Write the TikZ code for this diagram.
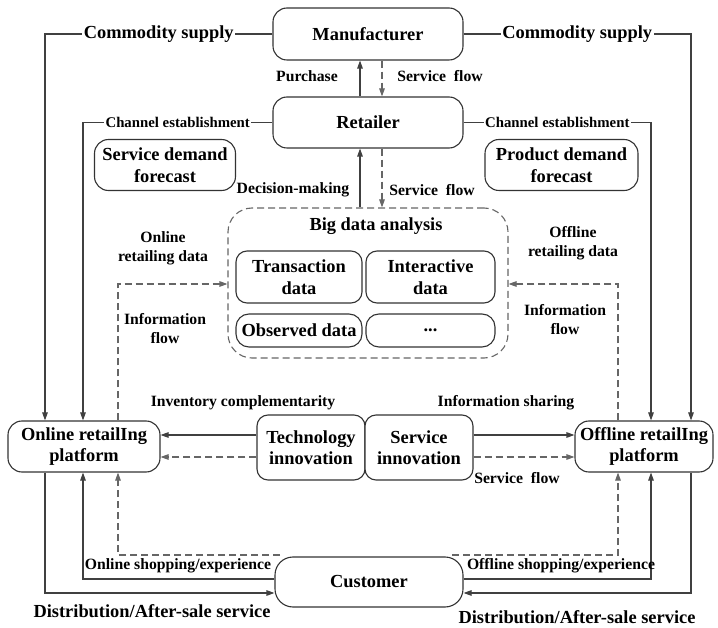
\documentclass[tikz,border=0pt]{standalone}
\usepackage{fontspec}
\setmainfont{Liberation Serif}
\usetikzlibrary{arrows.meta}
\pgfdeclarelayer{bg}
\pgfsetlayers{bg,main}
\begin{document}
\begin{tikzpicture}[x=1pt,y=-1pt,
  box/.style={draw=black!80,line width=1.1pt,rounded corners=14pt,fill=white,align=center,
    font=\fontsize{18.4}{21.5}\selectfont\bfseries,inner sep=0pt},
  ibox/.style={box,rounded corners=11pt},
  big/.style={font=\fontsize{18.4}{21.5}\selectfont\bfseries,align=center,inner sep=1pt},
  lbl/.style={font=\fontsize{15.7}{19}\selectfont\bfseries,align=center,inner sep=1pt},
  onl/.style={fill=white,inner sep=1.5pt},
  ln/.style={line width=1.1pt,draw=black!75},
  dsh/.style={line width=1.1pt,draw=black!60,dash pattern=on 7pt off 4pt},
  arr/.style={-{Triangle[length=8pt,width=5.5pt]}}]
\useasboundingbox[fill=white] (0,0) rectangle (718,628);
% nodes
\node[box,minimum width=190,minimum height=52] (man) at (368,34) {Manufacturer};
\node[box,minimum width=190,minimum height=51] (ret) at (368,122.5) {Retailer};
\node[box,minimum width=141,minimum height=51] (sdf) at (165,165) {Service demand\\forecast};
\node[box,minimum width=153,minimum height=51] (pdf) at (561.5,165) {Product demand\\forecast};
\node[box,draw=black!60,dash pattern=on 7pt off 4pt,rounded corners=24pt,minimum width=280,minimum height=150] (bda) at (368,283) {};
\node[big] (bdt) at (376,226) {Big data analysis};
\node[ibox,minimum width=126,minimum height=52] (tra) at (299,277) {Transaction\\data};
\node[ibox,minimum width=129,minimum height=52] (int) at (430.5,277) {Interactive\\data};
\node[ibox,minimum width=126,minimum height=33,rounded corners=13pt] (obs) at (299,330.5) {Observed data};
\node[ibox,minimum width=129,minimum height=33,rounded corners=13pt] (dots) at (430.5,330.5) {...};
\node[box,minimum width=152,minimum height=51] (onp) at (84,446.5) {Online retailIng\\platform};
\node[box,minimum width=138,minimum height=51] (ofp) at (644,446.5) {Offline retailIng\\platform};
\node[ibox,minimum width=108,minimum height=65] (tech) at (311,447.5) {Technology\\innovation};
\node[ibox,minimum width=108,minimum height=65] (serv) at (419,447.5) {Service\\innovation};
\node[box,minimum width=188,minimum height=50,rounded corners=18pt] (cust) at (369,582) {Customer};
% helper coordinates
\coordinate (xL1) at (45,0);
\coordinate (xL2) at (83,0);
\coordinate (xL3) at (118,0);
\coordinate (xR1) at (691,0);
\coordinate (xR2) at (651,0);
\coordinate (xR3) at (618,0);
\coordinate (xa) at (360,0);
\coordinate (xb) at (382,0);
\coordinate (xc) at (356,0);
\coordinate (xd) at (374,0);
\coordinate (yI) at (0,284);
\coordinate (yS) at (0,435);
\coordinate (yD) at (0,457);
\coordinate (yO) at (0,579);
\coordinate (yT) at (0,593);
\coordinate (cL) at (280,555);
\coordinate (cR) at (452,555);
% top connectors
\draw[ln,arr] (man.west) -| node[onl,pos=0.25,font=\fontsize{18.4}{21.5}\selectfont\bfseries]{Commodity supply} (xL1 |- onp.north);
\draw[ln,arr] (man.east) -| node[onl,pos=0.25,font=\fontsize{18.4}{21.5}\selectfont\bfseries]{Commodity supply} (xR1 |- ofp.north);
\draw[ln,arr] (ret.west) -| node[onl,pos=0.25,font=\fontsize{14.8}{18}\selectfont\bfseries]{Channel establishment} (xL2 |- onp.north);
\draw[ln,arr] (ret.east) -| node[onl,pos=0.25,font=\fontsize{14.8}{18}\selectfont\bfseries]{Channel establishment} (xR2 |- ofp.north);
\draw[ln,arr] (xa |- ret.north) -- (xa |- man.south);
\draw[dsh,arr] (xb |- man.south) -- (xb |- ret.north);
\draw[ln,arr] (xa |- bda.north) -- (xa |- ret.south);
\draw[dsh,arr] (xb |- ret.south) -- (xb |- bda.north);
\draw[dsh,arr] (xL3 |- onp.north) |- (bda.west |- yI);
\draw[dsh,arr] (xR3 |- ofp.north) |- (bda.east |- yI);
% middle connectors
\draw[ln,arr] (tech.west |- yS) -- (onp.east |- yS);
\draw[dsh,arr] (tech.west |- yD) -- (onp.east |- yD);
\draw[ln,arr] (serv.east |- yS) -- (ofp.west |- yS);
\draw[dsh,arr] (serv.east |- yD) -- (ofp.west |- yD);
\begin{pgfonlayer}{bg}
\draw[ln,arr] (xc |- cust.north) -- (xc |- bda.south);
\draw[dsh,arr] (xd |- bda.south) -- (xd |- cust.north);
\end{pgfonlayer}
% bottom connectors
\draw[ln,arr] (xL1 |- onp.south) |- (cust.west |- yT);
\draw[ln,arr] (cust.west |- yO) -| (xL2 |- onp.south);
\draw[dsh,arr] (cL) -| (xL3 |- onp.south);
\draw[ln,arr] (xR1 |- ofp.south) |- (cust.east |- yT);
\draw[ln,arr] (cust.east |- yO) -| (xR2 |- ofp.south);
\draw[dsh,arr] (cR) -| (xR3 |- ofp.south);
% labels
\node[lbl] (l1) at (307,76) {Purchase};
\node[lbl] (l2) at (440,76) {Service~ flow};
\node[lbl] (l3) at (293,190) {Decision-making};
\node[lbl] (l4) at (432,190) {Service~ flow};
\node[lbl] (l5) at (163,248) {Online\\retailing data};
\node[lbl] (l6) at (165,329) {Information\\flow};
\node[lbl] (l7) at (573,243) {Offline\\retailing data};
\node[lbl] (l8) at (565,320) {Information\\flow};
\node[lbl] (l9) at (243,403) {Inventory complementarity};
\node[lbl] (l10) at (506,403) {Information sharing};
\node[lbl] (l11) at (517,478) {Service~ flow};
\node[lbl] (l12) at (178,566) {Online shopping/experience};
\node[lbl] (l13) at (561,566) {Offline shopping/experience};
\node[big] (l14) at (152,611) {Distribution/After-sale service};
\node[big] (l15) at (577,617) {Distribution/After-sale service};
\end{tikzpicture}
\end{document}
